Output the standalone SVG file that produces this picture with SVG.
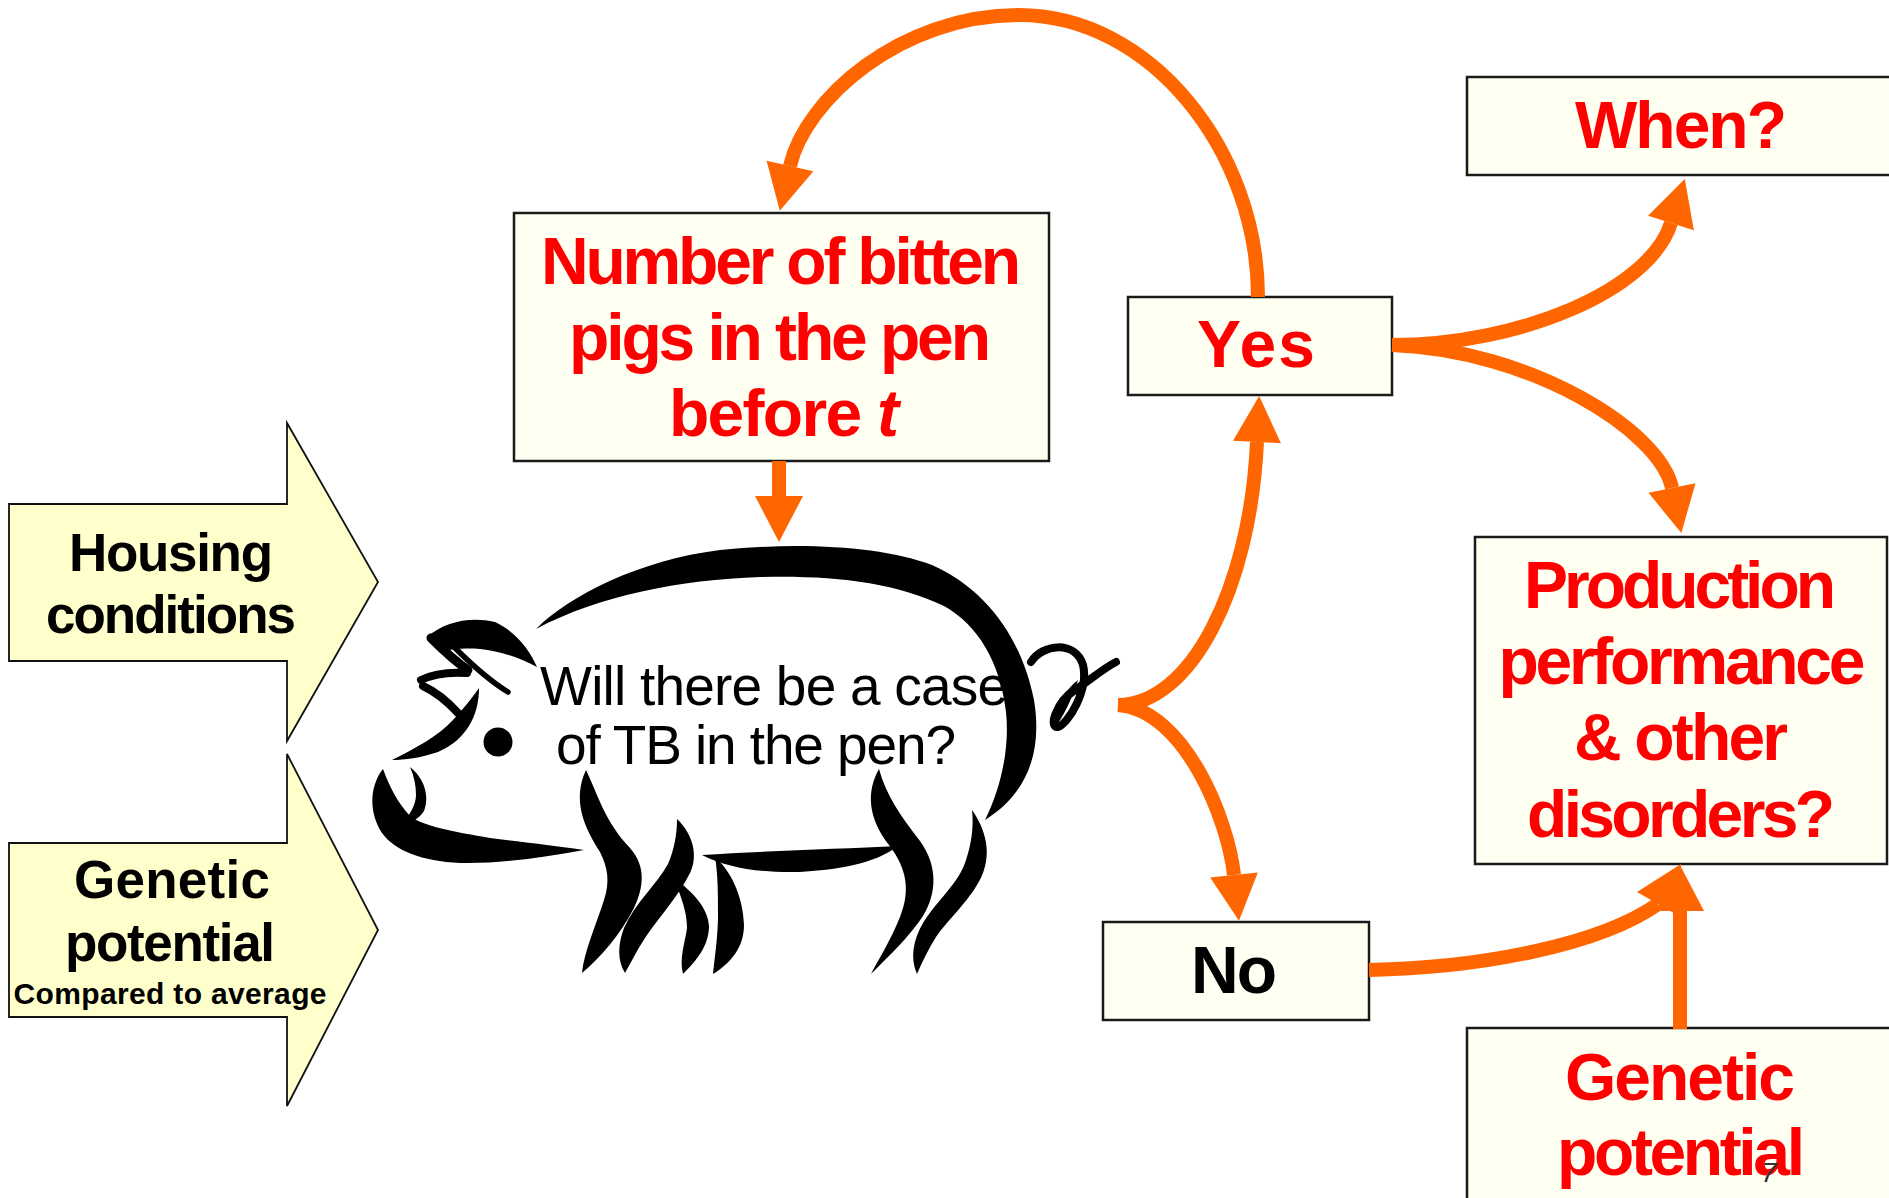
<svg xmlns="http://www.w3.org/2000/svg" width="1889" height="1198" viewBox="0 0 1889 1198">
<defs>
<style>
.box{fill:#FFFFF2;stroke:#1a1a1a;stroke-width:2.5}
.inarrow{fill:#FFFFCC;stroke:#111;stroke-width:1.8}
.red{font-family:"Liberation Sans",Arial,sans-serif;font-weight:bold;font-size:66px;fill:#FF0000;text-anchor:middle}
.blk{font-family:"Liberation Sans",Arial,sans-serif;font-weight:bold;fill:#000;text-anchor:middle}
.pigtxt{font-family:"Liberation Sans",Arial,sans-serif;font-size:55px;fill:#000;text-anchor:middle}
.c{fill:none;stroke:#FF6600;stroke-width:14}
.ink{fill:#000;stroke:none}
.inkline{fill:none;stroke:#000;stroke-linecap:round;stroke-linejoin:round}
</style>
<marker id="head" markerUnits="userSpaceOnUse" markerWidth="60" markerHeight="60" refX="0" refY="0" orient="auto" overflow="visible">
<path d="M0,-24 L46,0 L0,24 Z" fill="#FF6600"/>
</marker>
</defs>
<rect width="1889" height="1198" fill="#FFFFFF"/>

<g id="housing">
<polygon class="inarrow" points="9,504 287,504 287,423 378,582 287,741 287,661 9,661"/>
<text class="blk" font-size="53" x="171" y="571" textLength="204">Housing</text>
<text class="blk" font-size="53" x="171" y="633" textLength="250">conditions</text>
</g>

<g id="genetic-left">
<polygon class="inarrow" points="9,843 287,843 287,754 378,930 287,1106 287,1017 9,1017"/>
<text class="blk" font-size="53" x="172" y="898" textLength="196">Genetic</text>
<text class="blk" font-size="53" x="170" y="961" textLength="210">potential</text>
<text class="blk" font-size="30" x="170" y="1004" textLength="313">Compared to average</text>
</g>

<g id="number-box">
<rect class="box" x="514" y="213" width="535" height="248"/>
<text class="red" x="781" y="284" textLength="480">Number of bitten</text>
<text class="red" x="780" y="360" textLength="422">pigs in the pen</text>
<text class="red" x="784" y="436" textLength="230">before <tspan font-style="italic">t</tspan></text>
</g>

<g id="yes-box">
<rect class="box" x="1128" y="297" width="264" height="98"/>
<text class="red" x="1256" y="367" textLength="118">Yes</text>
</g>

<g id="when-box">
<rect class="box" x="1467" y="77" width="440" height="98"/>
<text class="red" x="1681" y="148" textLength="212">When?</text>
</g>

<g id="production-box">
<rect class="box" x="1475" y="537" width="412" height="327"/>
<text class="red" x="1680" y="608" textLength="312">Production</text>
<text class="red" x="1682" y="684" textLength="367">performance</text>
<text class="red" x="1681" y="760" textLength="214">&amp; other</text>
<text class="red" x="1681" y="837" textLength="308">disorders?</text>
</g>

<g id="no-box">
<rect class="box" x="1103" y="922" width="266" height="98"/>
<text class="blk" font-size="66" x="1234" y="993" textLength="86">No</text>
</g>

<g id="genetic-right-box">
<rect class="box" x="1467" y="1028" width="440" height="200"/>
<text class="red" x="1680" y="1100" textLength="230">Genetic</text>
<text class="red" x="1681" y="1175" textLength="248">potential</text>
<text x="1761" y="1182" font-family="Liberation Sans,Arial,sans-serif" font-size="28" font-style="italic" fill="#333">7</text>
</g>

<g id="pig">
<path class="ink" d="M536,629 C570,595 640,560 720,550 C800,542 880,546 932,565 C988,590 1022,640 1034,700 C1042,748 1030,792 985,820 C1000,790 1010,750 1006,712 C1000,662 978,625 944,606 C895,582 830,575 760,577 C680,580 600,595 536,629 Z"/>
<path class="inkline" stroke-width="8" d="M1031,662 C1042,644 1075,640 1083,665 C1089,690 1068,724 1058,727 C1048,729 1056,702 1075,690 C1090,680 1104,668 1116,662"/>
<path class="ink" d="M1078,680 C1072,700 1062,718 1055,728 C1050,715 1060,695 1078,680 Z"/>
<path class="ink" d="M428,636 C445,622 470,616 495,622 C515,631 530,650 537,667 C520,658 500,651 480,649 C465,648 452,649 446,651 Z"/>
<path class="inkline" stroke-width="9" d="M431,638 C445,652 456,662 468,670"/>
<path class="inkline" stroke-width="5.5" d="M453,646 C470,663 488,680 508,692"/>
<path class="inkline" stroke-width="8" d="M421,680 C435,673 452,672 467,673"/>
<path class="inkline" stroke-width="8" d="M423,686 C436,692 448,702 458,713"/>
<path class="ink" d="M479,688 C479,716 466,740 438,752 C420,758 405,760 392,760 C416,748 438,736 452,721 C464,708 472,698 479,688 Z"/>
<circle class="ink" cx="498" cy="742" r="14.5"/>
<path class="ink" d="M383,769 C370,785 368,812 382,833 C395,851 422,861 460,863 C500,864 545,857 584,850 C550,845 520,842 490,838 C455,832 422,826 410,816 C398,803 390,788 383,769 Z"/>
<path class="ink" d="M410,767 C424,778 430,796 424,811 C419,819 411,823 403,824 C409,815 416,805 416,795 C416,785 414,776 410,767 Z"/>
<path class="ink" d="M586,770 C598,795 605,822 630,848 C646,866 644,887 634,908 C620,935 600,958 582,973 C584,952 596,925 604,900 C610,882 608,868 600,852 C584,827 572,800 586,770 Z"/>
<path class="ink" d="M677,819 C694,835 698,857 690,873 C678,898 654,922 640,946 C633,958 629,966 625,973 C617,960 618,944 624,928 C635,903 657,884 668,864 C674,850 677,835 677,819 Z"/>
<path class="ink" d="M674,878 C693,892 708,908 709,926 C709,946 696,961 683,974 C679,958 685,943 687,928 C687,912 682,900 674,878 Z"/>
<path class="ink" d="M702,855 C760,851 840,849 898,846 C880,860 850,869 800,872 C760,873 728,868 702,855 Z"/>
<path class="ink" d="M715,857 C730,870 743,895 744,925 C744,947 731,963 713,974 C715,955 718,935 718,915 C718,895 718,875 715,857 Z"/>
<path class="ink" d="M879,769 C866,792 868,818 889,845 C908,870 910,892 900,917 C890,942 878,960 871,974 C888,957 910,936 923,916 C937,893 938,866 920,841 C900,815 886,795 879,769 Z"/>
<path class="ink" d="M972,810 C986,830 991,852 983,873 C973,898 949,918 936,937 C928,950 922,962 917,974 C910,958 913,940 923,923 C939,898 959,883 966,860 C971,845 974,828 972,810 Z"/>
<text class="pigtxt" x="774" y="705" textLength="468">Will there be a case</text>
<text class="pigtxt" x="756" y="764" textLength="400">of TB in the pen?</text>
</g>

<g id="connectors">
<path class="c" marker-end="url(#head)" d="M779,461 L779,496"/>
<path class="c" marker-end="url(#head)" d="M1258,297 C1258,150 1150,15 1019,15 C900,15 805,100 790,166"/>
<path class="c" marker-end="url(#head)" d="M1118,705 C1190,705 1250,590 1257,442"/>
<path class="c" marker-end="url(#head)" d="M1118,705 C1185,710 1228,820 1234,875"/>
<path class="c" marker-end="url(#head)" d="M1392,345 C1520,345 1650,290 1671,223"/>
<path class="c" marker-end="url(#head)" d="M1392,345 C1530,350 1660,430 1672,488"/>
<path class="c" d="M1369,970 C1480,968 1600,945 1658,904"/>
<polygon points="1681,864 1637,892 1679,916" fill="#FF6600"/>
<path class="c" marker-end="url(#head)" d="M1680,1029 L1680,911"/>
</g>
</svg>
